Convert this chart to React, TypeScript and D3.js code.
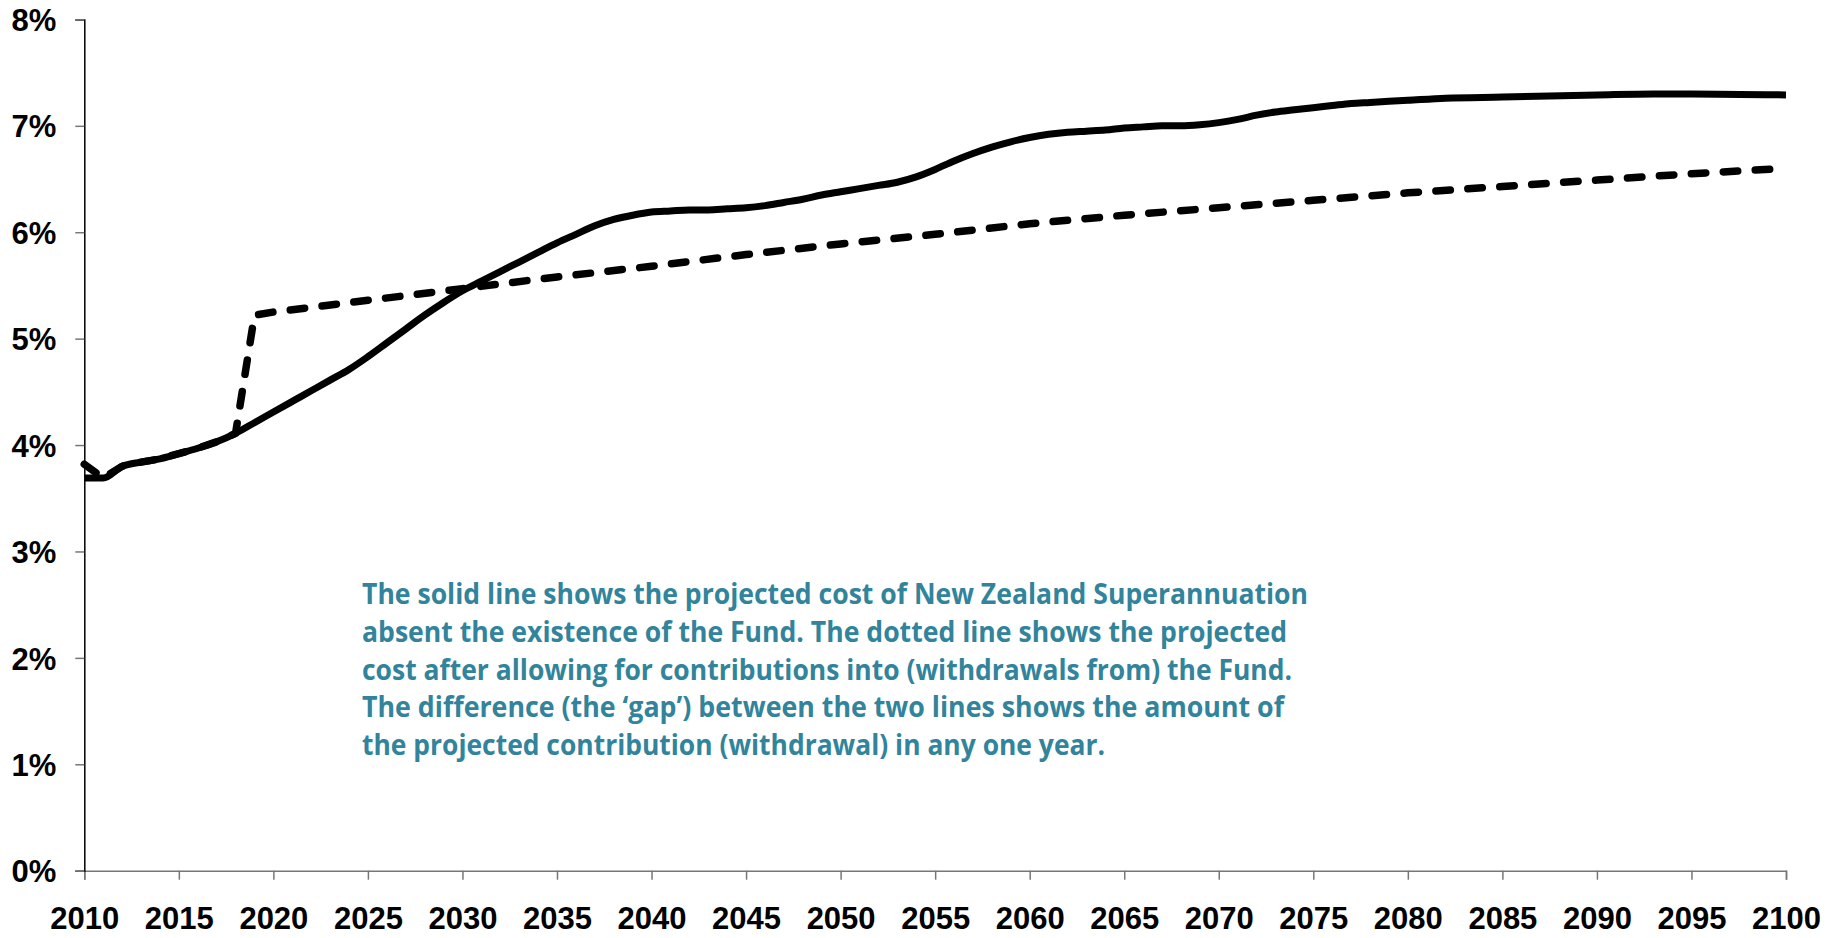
import React, { useEffect, useRef } from 'react';
import * as d3 from 'd3';

// cost of NZ Super, % of GDP
const solidYears = [
  2010, 2011, 2012, 2013, 2014, 2015, 2016, 2017, 2018, 2019,
  2020, 2021, 2022, 2023, 2024, 2025, 2026, 2027, 2028, 2029,
  2030, 2031, 2032, 2033, 2034, 2035, 2036, 2037, 2038, 2039,
  2040, 2041, 2042, 2043, 2044, 2045, 2046, 2047, 2048, 2049,
  2050, 2051, 2052, 2053, 2054, 2055, 2056, 2057, 2058, 2059,
  2060, 2061, 2062, 2063, 2064, 2065, 2066, 2067, 2068, 2069,
  2070, 2071, 2072, 2073, 2074, 2075, 2076, 2077, 2078,
  2080, 2082, 2085, 2090, 2093, 2095, 2100,
];
const solidValues = [
  3.69, 3.69, 3.80, 3.84, 3.87, 3.92, 3.97, 4.03, 4.11, 4.21,
  4.31, 4.41, 4.51, 4.61, 4.71, 4.83, 4.96, 5.09, 5.22, 5.34,
  5.45, 5.54, 5.63, 5.72, 5.81, 5.90, 5.98, 6.06, 6.12, 6.16,
  6.19, 6.20, 6.21, 6.21, 6.22, 6.23, 6.25, 6.28, 6.31, 6.35,
  6.38, 6.41, 6.44, 6.47, 6.52, 6.59, 6.67, 6.74, 6.80, 6.85,
  6.89, 6.92, 6.94, 6.95, 6.96, 6.98, 6.99, 7.00, 7.00, 7.01,
  7.03, 7.06, 7.10, 7.13, 7.15, 7.17, 7.19, 7.21, 7.22,
  7.24, 7.26, 7.27, 7.29, 7.30, 7.30, 7.29,
];

// cost after contributions into (withdrawals from) the Fund
const dashedYears = [
  2010, 2011, 2012, 2013, 2014, 2015, 2016, 2017, 2018, 2019,
  2020, 2025, 2030, 2035, 2040, 2045, 2050, 2055, 2060, 2065,
  2070, 2075, 2080, 2085, 2090, 2095, 2100,
];
const dashedValues = [
  3.82, 3.69, 3.80, 3.84, 3.87, 3.92, 3.97, 4.03, 4.11, 5.22,
  5.25, 5.36, 5.47, 5.58, 5.68, 5.79, 5.89, 5.98, 6.08, 6.16,
  6.23, 6.30, 6.37, 6.43, 6.49, 6.55, 6.60,
];

const yTicks = [0, 1, 2, 3, 4, 5, 6, 7, 8];
const xTicks = [2010, 2015, 2020, 2025, 2030, 2035, 2040, 2045, 2050, 2055,
  2060, 2065, 2070, 2075, 2080, 2085, 2090, 2095, 2100];

const noteLines = [
  'The solid line shows the projected cost of New Zealand Superannuation',
  'absent the existence of the Fund. The dotted line shows the projected',
  'cost after allowing for contributions into (withdrawals from) the Fund.',
  'The difference (the \u2018gap\u2019) between the two lines shows the amount of',
  'the projected contribution (withdrawal) in any one year.',
];
const noteWidths = [946, 925, 930, 922, 743];

const W = 1833;
const H = 938;

export default function App() {
  const yAxisRef = useRef<SVGGElement>(null);
  const xAxisRef = useRef<SVGGElement>(null);

  const x = d3.scaleLinear().domain([2010, 2100]).range([84.3, 1786]);
  const y = d3.scaleLinear().domain([0, 8]).range([870.7, 19.4]);

  const solidPath = d3.line<[number, number]>()
    .x(d => x(d[0]))
    .y(d => y(d[1]))
    .curve(d3.curveMonotoneX)(
    solidYears.map((yr, i) => [yr, solidValues[i]] as [number, number]));
  const dashedPath = d3.line<[number, number]>()
    .x(d => x(d[0]))
    .y(d => y(d[1]))(
    dashedYears.map((yr, i) => [yr, dashedValues[i]] as [number, number]));

  useEffect(() => {
    const ya = d3.select(yAxisRef.current);
    ya.selectAll('*').remove();
    ya.call(d3.axisLeft(y).tickValues(yTicks).tickSize(9).tickPadding(19)
      .tickFormat(d => `${d}%`));
    ya.select('.domain').attr('stroke', '#000').attr('stroke-width', 1.5);
    ya.selectAll('.tick line').attr('stroke', '#777').attr('stroke-width', 1.5);
    ya.selectAll('.tick text')
      .attr('font-family', '"Liberation Sans", Arial, sans-serif')
      .attr('font-weight', 'bold')
      .attr('font-size', 31)
      .attr('fill', '#000')
      .attr('dy', '0.36em');

    const xa = d3.select(xAxisRef.current);
    xa.selectAll('*').remove();
    xa.call(d3.axisBottom(x).tickValues(xTicks).tickSize(9).tickPadding(27)
      .tickFormat(d => `${d}`));
    xa.select('.domain').attr('stroke', '#777').attr('stroke-width', 1.5);
    xa.selectAll('.tick line').attr('stroke', '#777').attr('stroke-width', 1.5);
    xa.selectAll('.tick text')
      .attr('font-family', '"Liberation Sans", Arial, sans-serif')
      .attr('font-weight', 'bold')
      .attr('font-size', 31)
      .attr('fill', '#000');
  }, []);

  return (
    <svg width={W} height={H} style={{ position: 'absolute', left: 0, top: 0, background: '#fff' }}>
      <rect width={W} height={H} fill="#fff" />
      <g ref={xAxisRef} transform={`translate(0,${y(0)})`} />
      <g ref={yAxisRef} transform={`translate(${x(2010)},0)`} />
      <path d={dashedPath ?? ''} fill="none" stroke="#000" strokeWidth={7.5}
        strokeDasharray="14.5 17.5" strokeLinecap="round" strokeLinejoin="round" />
      <path d={solidPath ?? ''} fill="none" stroke="#000" strokeWidth={7}
        strokeLinejoin="round" />
      <g fill="#31849B" fontFamily='"Open Sans", "Noto Sans", sans-serif'
        fontWeight="bold" fontSize={29}>
        {noteLines.map((t, i) => (
          <text key={i} x={362} y={604 + i * 37.8} textLength={noteWidths[i]}
            lengthAdjust="spacingAndGlyphs">{t}</text>
        ))}
      </g>
    </svg>
  );
}
